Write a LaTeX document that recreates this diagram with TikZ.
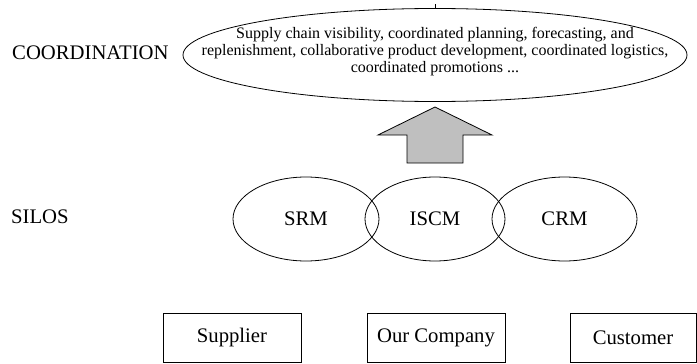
\documentclass[tikz,border=0pt]{standalone}
\usepackage{fontspec}
\setmainfont{Liberation Serif}
\usetikzlibrary{shapes.geometric}
\begin{document}
\begin{tikzpicture}[x=1pt,y=-1pt,
  lbl/.style={font=\fontsize{20.7}{23}\selectfont, inner sep=0pt},
  silo/.style={draw, ellipse, line width=0.8pt, minimum width=146pt, minimum height=84pt, inner sep=0pt, font=\fontsize{20.7}{23}\selectfont},
  party/.style={draw, rectangle, line width=0.8pt, minimum width=138pt, minimum height=49pt, inner sep=0pt, font=\fontsize{20.7}{23}\selectfont}]
\useasboundingbox (0,0) rectangle (697,364);
\node[lbl, anchor=west] (coordlbl) at (12,53) {COORDINATION};
\node[lbl, anchor=west] (silolbl) at (11,217) {SILOS};
\node[draw, ellipse, line width=0.8pt, minimum width=504pt, minimum height=93pt, inner sep=0pt] (coord) at (435,55) {};
\draw[line width=0.8pt] (coord.north) -- ++(0,-4);
\node[align=center, font=\fontsize{16}{17}\selectfont, inner sep=0pt] (coordtxt) at (435,52) {Supply chain visibility, coordinated planning, forecasting, and\\replenishment, collaborative product development, coordinated logistics,\\coordinated promotions ...};
\draw[line width=0.8pt, fill=gray!50] (435,107) -- (492,135) -- (463,135) -- (463,163) -- (407,163) -- (407,135) -- (378,135) -- cycle;
\node[silo] (srm) at (306,219) {SRM};
\node[silo, minimum width=140pt] (iscm) at (435,219) {ISCM};
\node[silo, minimum width=145pt] (crm) at (564.5,219) {CRM};
\node[party] (supplier) at (232,337.5) {Supplier};
\node[party] (ourco) at (436,337.5) {Our Company};
\node[party, minimum width=126pt] (customer) at (633,337.5) {Customer};
\end{tikzpicture}
\end{document}
